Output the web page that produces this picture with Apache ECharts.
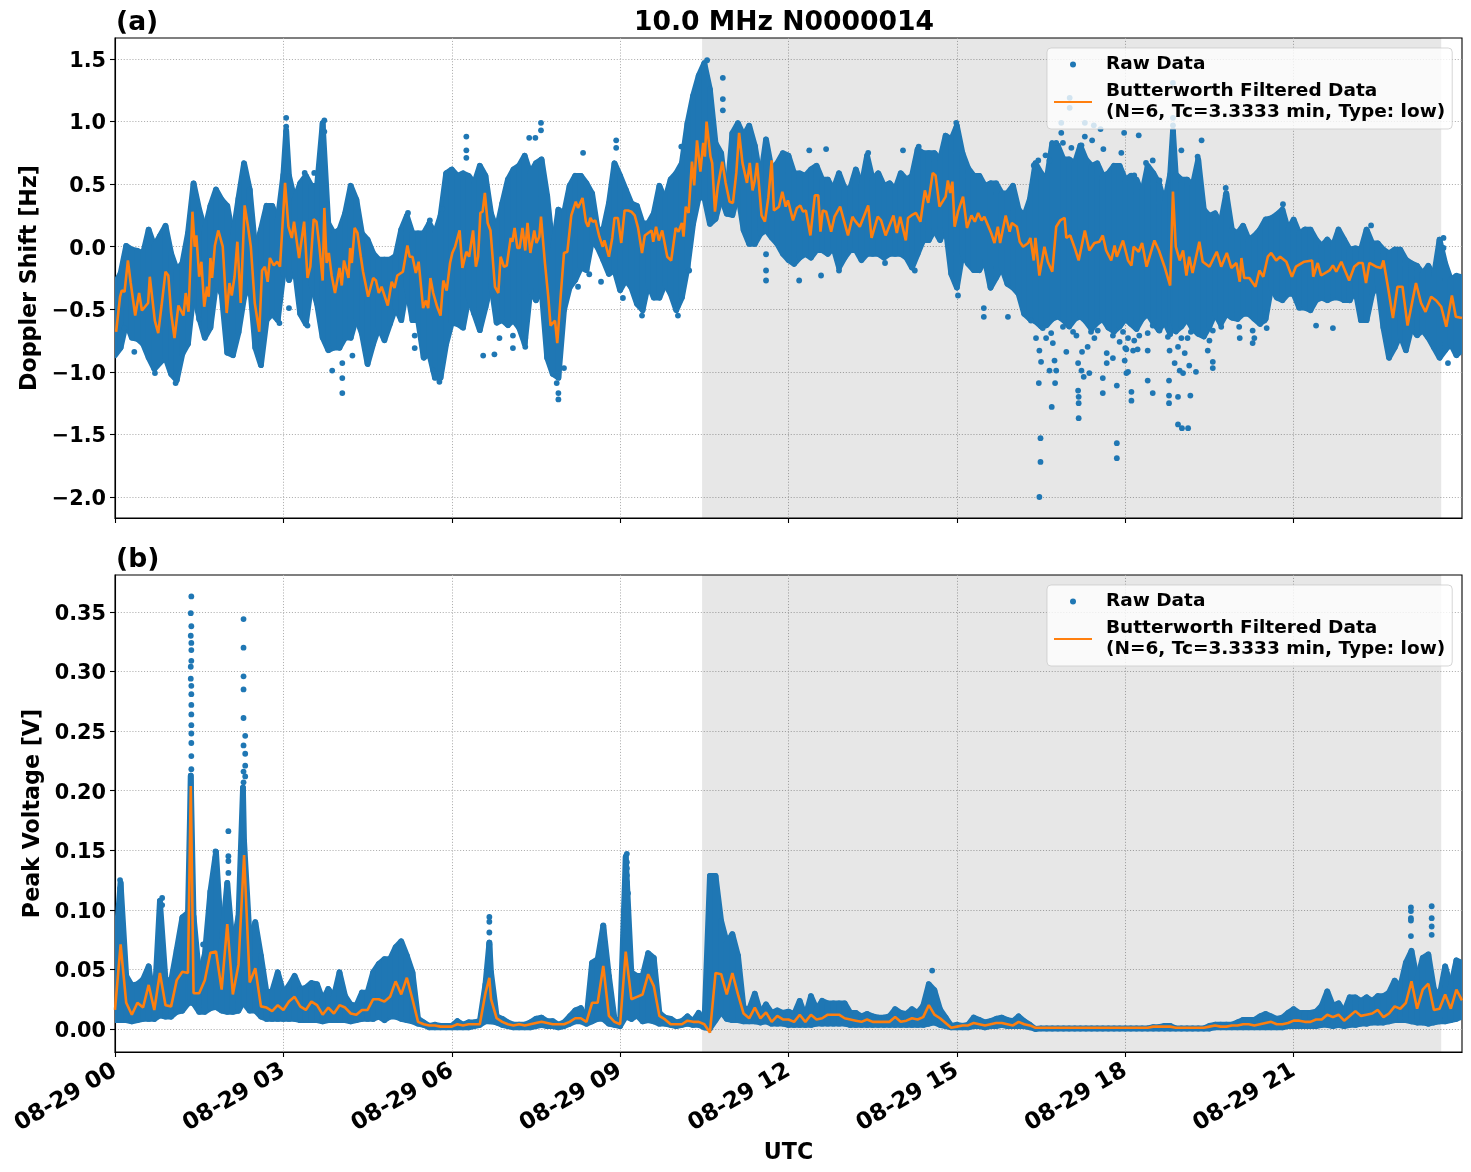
<!DOCTYPE html>
<html>
<head>
<meta charset="utf-8">
<style>html,body{margin:0;padding:0;background:#fff}#chart{width:1471px;height:1172px}</style>
<script src="https://cdn.jsdelivr.net/npm/echarts@6/dist/echarts.min.js"></script>
</head>
<body>
<div id="chart"></div>
<script>
// Envelopes are sampled every 0.1 h from 00:00 to 24:00 UTC.
const sampleStepHours = 0.1;

const dopplerHigh = [
-.27,-.19,.03,0,-.01,-.03,.16,.03,.11,.19,
-.03,-.16,-.11,.13,.53,.32,.16,.35,.48,.40,
.35,.11,.41,.69,.48,0,.16,.35,.35,.24,
.6,.59,.40,.53,.59,.51,.51,1.01,.21,.13,
.16,.29,.51,.40,.13,.08,-.03,-.08,-.08,-.08,
-.05,.16,.27,.13,.13,.13,.21,.13,.27,.61,
.64,.59,.61,.59,.53,.67,.59,.29,.16,.37,
.56,.64,.67,.75,.61,.69,.72,.43,0,.32,
.29,.51,.59,.59,.53,.45,.16,.16,.37,.69,
.59,.48,.37,.35,.21,.21,.29,.51,.40,.56,
.61,.69,1.01,1.23,1.39,1.49,1.28,.85,.77,.40,
.93,1.01,.91,.99,.83,.56,.88,.64,.69,.77,
.75,.61,.61,.59,.64,.67,.56,.56,.48,.61,
.49,.49,.64,.51,.75,.56,.61,.51,.53,.48,
.61,.56,.59,.80,.77,.77,.77,.72,.91,.88,
.99,.77,.65,.59,.59,.51,.53,.53,.45,.45,
.51,.32,.27,.40,.69,.61,.56,.85,.83,.72,
.72,.69,.83,.72,.67,.69,.59,.61,.67,.67,
.56,.59,.56,.45,.67,.61,.53,.37,.6,.6,
.56,.56,.51,.72,.32,.27,.29,.21,.45,.16,
.13,.19,.08,.11,.16,.24,.25,.28,.32,.16,
.24,.13,.16,.16,.08,.03,.08,.03,.16,.08,
0,.01,0,.16,.05,.05,0,-.03,0,0,
-.08,-.11,-.13,-.19,-.13,-.21,.08,-.11,-.24,-.21,
-.22];

const dopplerLow = [
-.89,-.83,-.63,-.75,-.76,-.80,-.91,-1.0,-.95,-.91,
-1.04,-1.09,-.88,-.8,-.39,-.59,-.75,-.67,-.32,-.40,
-.87,-.89,-.71,-.43,-.3,-.83,-.97,-.61,-.56,-.61,
-.24,-.29,-.19,-.56,-.64,-.32,-.48,-.75,-.85,-.83,
-.83,-.75,-.75,-.59,-.72,-.96,-.80,-.67,-.77,-.64,
-.51,-.61,-.35,-.61,-.61,-.91,-.88,-1.07,-1.07,-.8,
-.63,-.64,-.67,-.43,-.56,-.69,-.51,-.32,-.63,-.61,
-.65,-.61,-.67,-.80,-.37,-.45,-.37,-.91,-1.04,-1.07,
-.53,-.35,-.29,-.19,-.21,.03,-.03,-.13,-.24,-.21,
-.37,-.29,-.35,-.48,-.53,-.32,-.43,-.43,-.32,-.40,
-.53,-.43,-.19,.16,.37,.37,.16,.20,.37,.24,
.23,.40,.11,0,0,.08,.11,.05,0,-.08,
-.13,-.16,-.11,-.08,-.11,-.05,-.05,-.08,-.03,-.19,
-.11,-.05,-.05,-.13,-.08,-.08,-.08,-.11,-.08,-.08,
-.08,-.11,-.19,-.08,.03,.03,.11,.03,.13,-.24,
-.35,-.08,-.16,-.21,-.21,-.13,-.35,-.27,-.19,-.32,
-.35,-.40,-.56,-.6,-.62,-.66,-.65,-.6,-.58,-.61,
-.66,-.6,-.58,-.62,-.68,-.63,-.6,-.67,-.7,-.66,
-.6,-.64,-.68,-.6,-.56,-.63,-.69,-.62,-.72,-.7,
-.66,-.6,-.68,-.72,-.74,-.66,-.56,-.64,-.56,-.59,
-.6,-.56,-.56,-.6,-.64,-.6,-.35,-.43,-.45,-.40,
-.40,-.51,-.51,-.53,-.45,-.43,-.45,-.43,-.43,-.45,
-.45,-.37,-.61,-.61,-.40,-.32,-.67,-.91,-.83,-.73,
-.85,-.67,-.73,-.69,-.75,-.83,-.91,-.85,-.80,-.89,
-.85];

// Narrow excursions between two samples: [hour, low, high].
const dopplerBandPeaks = [[3.05,-.2,.95],[18.85,-.6,.95]];

// Filtered Doppler trace vertices: [hour, Hz].
const dopplerFiltered = [
[.02,-.68],[.09,-.40],[.12,-.35],[.17,-.36],[.23,-.11],[.28,-.29],[.36,-.55],[.43,-.37],[.48,-.51],[.59,-.45],
[.62,-.24],[.71,-.59],[.77,-.69],[.83,-.47],[.90,-.20],[.95,-.23],[1.0,-.53],[1.06,-.73],[1.13,-.47],[1.22,-.55],
[1.26,-.37],[1.31,-.52],[1.38,.28],[1.42,0],[1.45,.09],[1.50,-.24],[1.54,-.12],[1.59,-.48],[1.64,-.32],[1.67,-.40],
[1.70,-.09],[1.73,-.25],[1.78,.01],[1.84,.13],[1.92,0],[1.99,-.53],[2.04,-.29],[2.08,-.39],[2.13,-.24],[2.18,.04],
[2.24,-.45],[2.31,.33],[2.37,.16],[2.42,0],[2.49,-.45],[2.57,-.68],[2.62,-.19],[2.67,-.16],[2.72,-.28],[2.76,-.09],
[2.83,-.15],[2.89,-.12],[2.94,-.16],[3.03,.51],[3.09,.16],[3.15,.07],[3.19,.20],[3.28,-.09],[3.37,.20],[3.43,-.25],
[3.48,-.16],[3.54,.22],[3.59,.20],[3.64,.01],[3.70,-.27],[3.73,.31],[3.77,-.13],[3.81,-.05],[3.86,-.23],[3.92,-.37],
[4.0,-.17],[4.04,-.31],[4.08,-.11],[4.16,-.25],[4.19,-.01],[4.22,-.13],[4.27,.15],[4.32,.11],[4.38,-.08],[4.42,-.20],
[4.51,-.40],[4.60,-.25],[4.65,-.27],[4.70,-.37],[4.75,-.32],[4.86,-.47],[4.93,-.28],[4.98,-.33],[5.03,-.23],[5.13,-.20],
[5.21,.01],[5.25,-.08],[5.30,-.08],[5.36,-.21],[5.41,-.12],[5.49,-.49],[5.54,-.43],[5.58,-.49],[5.62,-.25],[5.67,-.37],
[5.74,-.48],[5.80,-.55],[5.85,-.27],[5.91,-.35],[5.97,-.13],
[6.01,-.05],[6.06,0],[6.14,.13],[6.19,-.17],[6.26,-.04],[6.31,-.08],[6.38,.13],[6.43,-.16],[6.47,-.08],[6.51,.27],
[6.55,.28],[6.59,.43],[6.64,.19],[6.69,.13],[6.77,-.32],[6.83,-.37],[6.87,-.08],[6.93,-.16],[6.98,-.15],[7.05,.07],
[7.08,.04],[7.12,.15],[7.17,-.01],[7.21,-.01],[7.26,.15],[7.31,-.03],[7.35,.19],[7.40,-.05],[7.47,.13],[7.51,.03],
[7.56,.08],[7.59,.24],[7.66,-.13],[7.72,-.40],[7.76,-.63],[7.84,-.59],[7.88,-.77],[7.94,-.40],[8.0,-.05],[8.06,-.04],
[8.13,.25],[8.21,.36],[8.25,.31],[8.33,.39],[8.39,.20],[8.43,.16],[8.47,.23],[8.51,.20],[8.56,.21],[8.63,.08],
[8.69,0],[8.72,.05],[8.80,-.08],[8.86,.07],[8.90,.23],[8.96,.23],[9.02,.03],[9.08,.29],[9.14,.29],[9.20,.28],
[9.26,.25],[9.32,.15],[9.39,-.05],[9.44,.09],[9.50,.11],[9.56,.13],[9.59,.04],[9.64,.16],[9.69,.05],[9.75,.13],
[9.84,-.08],[9.91,-.11],[9.99,.15],[10.04,.12],[10.10,.19],[10.13,.08],[10.17,.32],[10.22,.27],[10.28,.68],[10.32,.49],
[10.37,.85],[10.43,.60],[10.48,.83],[10.51,.72],[10.54,1.0],[10.61,.72],[10.64,.67],[10.69,.28],[10.74,.48],[10.82,.68],
[10.88,.51],[10.95,.36],[11.01,.35],[11.07,.59],[11.12,.91],[11.18,.67],[11.26,.51],[11.31,.67],[11.36,.45],[11.40,.53],
[11.44,.67],[11.52,.25],[11.58,.20],[11.64,.39],[11.70,.69],[11.74,.29],[11.83,.32],
[11.89,.44],[11.95,.32],[11.99,.37],[12.08,.21],[12.15,.31],[12.21,.33],[12.26,.28],[12.31,.29],[12.39,.09],[12.47,.41],
[12.53,.41],[12.57,.12],[12.61,.29],[12.67,.28],[12.76,.12],[12.82,.24],[12.92,.32],[13.06,.09],[13.14,.24],[13.18,.21],
[13.27,.16],[13.42,.33],[13.48,.07],[13.59,.24],[13.65,.21],[13.73,.09],[13.87,.25],[13.93,.11],[13.99,.24],[14.09,.05],
[14.13,.23],[14.19,.25],[14.27,.27],[14.35,.20],[14.43,.45],[14.49,.35],[14.57,.59],[14.62,.57],[14.69,.32],[14.80,.40],
[14.84,.53],[14.88,.43],[14.92,.52],[14.96,.16],[15.02,.28],[15.11,.40],[15.18,.15],[15.26,.25],[15.32,.20],[15.38,.27],
[15.44,.21],[15.49,.24],[15.61,.11],[15.67,.03],[15.73,.16],[15.77,.03],[15.87,.25],[15.94,.12],[15.98,.19],[16.07,.16],
[16.12,.04],[16.18,0],[16.27,.03],[16.31,.07],[16.37,-.11],[16.40,.07],[16.47,-.23],[16.56,0],[16.62,-.12],[16.70,-.20],
[16.77,.16],[16.84,.21],[16.92,.23],[16.95,.07],[17.02,.09],[17.10,-.01],[17.17,-.11],[17.28,.13],[17.36,-.03],[17.45,.03],
[17.54,.04],[17.60,.09],[17.66,-.03],[17.75,-.11],[17.81,.01],[17.85,-.08],[17.96,.05],[18.05,-.11],
[18.11,-.15],[18.15,0],[18.24,-.04],[18.30,.03],[18.38,-.16],[18.46,-.04],[18.52,.05],[18.60,-.03],[18.70,-.16],[18.80,-.31],
[18.85,.44],[18.90,0],[18.97,-.11],[19.03,-.03],[19.09,-.23],[19.14,-.08],[19.20,-.21],[19.32,.04],[19.38,-.12],[19.50,-.16],
[19.63,-.04],[19.71,-.16],[19.81,-.05],[19.89,-.17],[19.98,-.13],[20.04,-.28],[20.07,-.09],[20.12,-.25],[20.21,-.25],[20.32,-.32],
[20.39,-.19],[20.46,-.24],[20.54,-.08],[20.60,-.05],[20.69,-.11],[20.76,-.08],[20.87,-.12],[20.97,-.24],[21.04,-.16],[21.19,-.12],
[21.33,-.11],[21.35,-.24],[21.43,-.13],[21.49,-.23],[21.64,-.19],[21.70,-.15],[21.76,-.20],[21.85,-.12],[21.99,-.27],[22.08,-.16],
[22.16,-.13],[22.23,-.13],[22.29,-.29],[22.35,-.13],[22.47,-.16],[22.56,-.17],[22.60,-.11],[22.68,-.32],[22.77,-.57],[22.85,-.32],
[22.94,-.32],[23.03,-.63],[23.18,-.29],[23.27,-.45],[23.35,-.52],[23.45,-.40],[23.54,-.43],[23.63,-.48],[23.72,-.64],[23.82,-.39],
[23.89,-.56],[24.0,-.57]];

// Isolated raw samples outside the dense band: [hour, Hz].
const dopplerIsolated = [
[.344,-.84],[.712,-1.01],[1.08,-1.09],[3.87,-.99],[4.05,-.93],[4.05,-1.05],[4.05,-1.17],[4.23,-.87],
[3.10,-.49],[2.93,-.61],[5.78,-1.08],[5.67,-.99],[3.05,1.03],[3.05,.96],[3.73,1.01],[3.73,.92],
[3.38,.59],[3.55,.59],[5.22,.27],[5.61,.21],[5.83,.30],[5.34,-.71],[5.34,-.81],[3.43,-.63],[1.50,-.58],[.17,-.65],
[6.56,-.87],[6.76,-.86],[6.85,-.73],[7.09,-.71],[7.09,-.81],[7.31,-.73],[7.31,-.80],[6.26,.88],[6.26,.77],[6.26,.71],
[7.59,.99],[7.59,.93],[7.38,.87],[7.49,.87],[7.90,-1.22],[7.90,-1.17],[7.87,-1.09],[8.34,.75],[8.93,.85],[8.93,.79],
[10.83,1.35],[10.83,1.18],[10.83,1.09],[10.55,1.49],[11.60,-.06],[11.60,-.19],[11.60,-.27],[9.05,-.41],[10.23,-.19],
[9.39,-.55],[10.03,-.55],[10.03,-.47],[8.25,-.32],[8.45,-.22],[8.66,-.28],[8.00,-.97],[10.09,.80],
[16.47,-2.0],[16.49,-1.72],[16.49,-1.53],[17.85,-1.69],[17.85,-1.57],[17.17,-1.37],[17.17,-1.25],[17.17,-1.20],[17.16,-1.15],
[16.69,-1.28],[16.75,-1.09],[16.46,-1.09],[17.60,-1.17],[17.60,-1.05],[17.85,-1.11],[12.19,-.27],[12.58,-.23],[12.90,-.13],[12.90,-.19],
[14.25,-.19],[13.72,-.13],[15.48,-.56],[15.48,-.49],[15.91,-.56],[15.02,-.39],[14.99,.99],[14.99,.95],[12.67,.78],[12.37,.77],
[13.42,.75],[14.04,.77],[14.32,.80],[17.01,1.19],[17.01,1.11],[16.86,.99],[16.86,.91],[17.28,.99],[17.44,.97],[17.56,.94],[17.98,.91],
[16.58,.73],[16.37,.65],[16.45,.69],
[18.85,1.31],[18.85,1.03],[18.85,.97],[18.85,.91],[18.24,.89],[19.36,.85],[19.79,.47],[19.79,.41],[20.81,.34],[22.38,.17],
[23.67,.07],[23.67,-.01],[21.40,-.63],[21.70,-.65],[18.94,-1.42],[19.12,-1.45],[19.01,-1.45],[18.11,-1.16],[18.11,-1.23],
[18.49,-1.17],[18.40,-1.07],[18.78,-1.07],[18.78,-1.19],[18.78,-1.25],[18.94,-1.20],[19.16,-1.19],[19.56,-.92],[19.56,-.97],
[18.00,-.81],[20.04,-.73],[20.27,-.77],[20.52,-.65],[23.75,-.93],
[16.41,-.73],[16.47,-.83],[16.59,-.73],[16.71,-.77],[16.95,-.84],[17.23,-.84],[17.33,-.80],[17.45,-.73],[17.67,-.85],[17.78,-.89],
[18.02,-.82],[16.50,-.92],[16.74,-.91],[16.65,-.99],[16.77,-.99],[17.16,-.93],[17.22,-.99],[17.36,-1.01],[17.26,-1.04],[18.02,-1.01],[17.67,-.93],
[17.96,-.68],[18.05,-.73],[18.16,-.75],[18.25,-.71],[18.40,-.69],[18.49,-.63],[17.99,-.91],[18.05,-1.0],[18.14,-.83],[18.22,-.82],
[18.40,-.83],[18.61,-.67],[18.76,-.72],[18.79,-.83],[18.88,-.93],[18.94,-.80],[19.0,-.73],[19.06,-.85],[19.14,-.95],[19.26,-1.0],
[19.47,-.83],[19.5,-.75],[19.56,-.67],[18.97,-.99],[19.03,-1.01],[19.11,-.73],[19.17,-.68],[19.71,-.64],[20.03,-.64],[20.27,-.67],
[20.30,-.73],[20.48,-.59],[20.51,-.52],
[16.77,.83],[16.89,.83],[17.04,.79],[17.22,.81],[17.28,.88],[17.41,.85],[17.61,.78],[17.93,.75],[16.65,.69],
[18.37,.67],[18.49,.69],[18.16,.57],[18.61,.53],[19.0,.77],[19.29,.72],[19.29,.64],
[16.32,-.59],[16.53,-.65],[16.68,-.69],[16.89,-.64],[17.07,-.68],[17.13,-.71],[17.39,-.68],[17.51,-.67],[17.78,-.71],[17.90,-.76]];

const voltageHigh = [
.067,.125,.047,.039,.040,.044,.055,.022,.11,.044,
.043,.069,.096,.10,.097,.047,.065,.118,.151,.075,
.125,.071,.097,.16,.078,.092,.064,.033,.034,.05,
.033,.039,.047,.036,.037,.041,.040,.027,.036,.030,
.050,.030,.023,.022,.033,.033,.050,.057,.061,.061,
.071,.076,.064,.050,.011,.008,.005,.006,.005,.005,
.005,.009,.006,.008,.008,.009,.04,.05,.013,.011,
.008,.006,.006,.006,.008,.011,.012,.009,.009,.006,
.008,.013,.018,.020,.011,.058,.061,.089,.047,.011,
.009,.147,.050,.047,.047,.066,.062,.016,.012,.011,
.008,.009,.013,.009,.016,.006,.131,.131,.093,.075,
.082,.064,.020,.019,.032,.016,.023,.016,.018,.016,
.017,.015,.026,.013,.030,.019,.026,.024,.024,.024,
.024,.016,.016,.013,.015,.013,.012,.012,.013,.019,
.016,.015,.019,.016,.022,.040,.035,.019,.012,.005,
.006,.005,.006,.012,.010,.008,.009,.011,.012,.010,
.009,.013,.009,.006,.002,.003,.003,.003,.003,.003,
.003,.003,.003,.003,.003,.003,.003,.003,.003,.003,
.003,.003,.003,.003,.003,.004,.004,.005,.005,.003,
.003,.003,.003,.003,.003,.005,.006,.006,.006,.006,
.008,.010,.010,.010,.013,.015,.013,.011,.012,.016,
.019,.016,.016,.016,.017,.022,.034,.022,.024,.017,
.029,.029,.026,.029,.026,.030,.030,.033,.043,.038,
.058,.068,.044,.062,.065,.036,.030,.055,.038,.060,
.058];

const voltageLow = [
.005,.005,.005,.004,.005,.006,.006,.006,.009,.008,
.008,.012,.013,.019,.019,.012,.012,.015,.016,.013,
.012,.012,.013,.019,.013,.013,.008,.006,.006,.006,
.006,.006,.006,.005,.005,.005,.005,.004,.005,.005,
.005,.005,.004,.005,.006,.006,.006,.008,.005,.008,
.008,.006,.005,.004,.002,.001,-.001,-.001,-.001,-.001,
-.001,-.001,-.001,-.001,0,.001,.004,.004,.003,.001,
0,-.001,-.001,-.001,-.001,0,.001,0,0,-.001,
0,.002,.004,.004,.002,.004,.006,.006,.002,.001,
0,.008,.006,.009,.004,.005,.004,.002,.002,.001,
0,.001,.002,.001,.001,-.001,-.002,.005,.012,.006,
.005,.005,.004,.004,.004,.003,.004,.002,.002,.002,
.001,.001,.001,.001,.001,.002,.002,.002,.002,.002,
.002,.001,.001,.001,.001,.001,.001,.001,.001,.001,
.001,.001,.001,.001,.001,.002,.003,.001,0,-.001,
-.001,-.001,-.001,0,0,-.001,0,0,.001,0,
0,0,0,-.001,-.002,-.002,-.002,-.002,-.002,-.002,
-.002,-.002,-.002,-.002,-.002,-.002,-.002,-.002,-.002,-.002,
-.002,-.002,-.002,-.002,-.002,-.002,-.002,-.002,-.002,-.002,
-.002,-.002,-.002,-.002,-.002,-.002,-.001,-.001,-.001,-.001,
-.001,-.001,-.001,-.001,-.001,-.001,-.001,-.001,-.001,0,
0,0,0,0,0,.001,.001,0,.001,0,
.001,.001,.002,.002,.003,.003,.003,.004,.005,.005,
.005,.004,.003,.003,.002,.003,.004,.004,.005,.006,
.008];

const voltageBandPeaks = [[1.35,.02,.215],[2.28,.02,.205],[6.67,.004,.075]];

const voltageFiltered = [
.016,.071,.022,.012,.022,.018,.037,.016,.047,.020,
.019,.041,.048,.047,.030,.030,.041,.064,.065,.033,
.088,.029,.054,.146,.039,.051,.019,.018,.015,.020,
.016,.023,.027,.019,.016,.023,.020,.012,.018,.013,
.020,.018,.013,.012,.016,.016,.025,.025,.023,.027,
.040,.029,.043,.025,.006,.004,.003,.003,.002,.002,
.002,.004,.003,.004,.004,.004,.030,.025,.009,.006,
.004,.003,.004,.003,.004,.005,.006,.005,.004,.004,
.004,.006,.009,.009,.006,.022,.022,.053,.011,.006,
.004,.065,.025,.027,.029,.046,.036,.011,.008,.004,
.004,.004,.007,.006,.006,.004,-.003,.047,.046,.029,
.047,.029,.013,.009,.018,.009,.014,.006,.011,.008,
.008,.006,.012,.006,.012,.008,.009,.012,.012,.012,
.009,.008,.007,.006,.008,.006,.006,.006,.006,.010,
.006,.007,.009,.008,.010,.020,.012,.009,.005,.001,
.002,.003,.003,.005,.004,.003,.004,.005,.005,.004,
.003,.006,.004,.003,.001,.001,.001,.001,.001,.001,
.001,.001,.001,.001,.001,.001,.001,.001,.001,.001,
.001,.001,.001,.001,.001,.002,.002,.002,.002,.001,
.001,.001,.001,.001,.001,.002,.003,.002,.002,.003,
.003,.004,.004,.003,.004,.005,.006,.004,.004,.005,
.007,.007,.006,.006,.008,.008,.012,.010,.012,.007,
.011,.015,.011,.012,.013,.016,.010,.013,.019,.017,
.022,.040,.017,.033,.038,.016,.017,.029,.017,.033,
.024];

const voltageFilteredPeaks = [[1.35,.204],[6.67,.043]];

// Isolated raw samples above the dense band: [hour, volts].
const voltageIsolated = [
[1.36,.363],[1.35,.349],[1.36,.338],[1.35,.330],[1.36,.324],[1.36,.318],[1.36,.309],[1.35,.304],[1.35,.294],[1.36,.288],
[1.36,.281],[1.36,.272],[1.36,.264],[1.36,.255],[1.36,.248],[1.36,.240],[1.36,.229],[1.36,.218],
[2.29,.344],[2.29,.320],[2.29,.296],[2.29,.285],[2.29,.261],[2.32,.246],[2.29,.238],[2.32,.231],[2.32,.221],[2.29,.216],[2.32,.212],[2.29,.207],
[2.02,.166],[2.02,.145],[2.02,.141],[2.02,.131],[1.79,.149],[1.79,.144],[1.79,.138],[1.79,.134],[1.57,.071],
[.09,.125],[.09,.118],[.84,.110],[.84,.104],
[6.67,.094],[6.67,.090],[6.67,.081],[6.67,.071],
[9.12,.147],[9.12,.140],[9.12,.135],[9.12,.129],[9.12,.123],[9.14,.114],
[8.70,.087],[8.70,.083],[8.70,.075],[14.56,.049],
[23.09,.102],[23.09,.099],[23.09,.093],[23.09,.091],[23.09,.078],
[23.46,.103],[23.46,.093],[23.46,.086],[23.46,.079]];

const hourTicks = [0,3,6,9,12,15,18,21];
const hourTickLabels = ['08-29 00','08-29 03','08-29 06','08-29 09','08-29 12','08-29 15','08-29 18','08-29 21'];
const dopplerTicks = [1.5,1,0.5,0,-0.5,-1,-1.5,-2];
const voltageTicks = [0.35,0.30,0.25,0.20,0.15,0.10,0.05,0];
const nightStartHour = 10.46;
const nightEndHour = 23.63;

const RAW_NAME = 'Raw Data';
const FILTER_NAME = 'Butterworth Filtered Data\n(N=6, Tc=3.3333 min, Type: low)';
const BLUE = '#1f77b4';
const ORANGE = '#ff7f0e';
const FONT = '"DejaVu Sans"';
const DOT = 5.8;

const byHour = (a, b) => a[0] - b[0];
const bandRows = (hi, lo, peaks) => hi.map((h, i) => [i * sampleStepHours, lo[i], h]).concat(peaks).sort(byHour);
const voltageTrace = voltageFiltered.map((v, i) => [i * sampleStepHours, v]).concat(voltageFilteredPeaks).sort(byHour);

// The dense part of the raw data: one filled quad between consecutive envelope samples,
// inset and stroked by a dot radius so that its outline has the roundness of the points.
function bandRenderer(rows) {
  return function (params, api) {
    const i = params.dataIndex;
    if (i + 1 >= rows.length) return null;
    const r = DOT / 2;
    const edge = row => {
      const top = api.coord([row[0], row[2]]);
      const bottom = api.coord([row[0], row[1]]);
      let y1 = top[1] + r, y2 = bottom[1] - r;
      if (y1 > y2) y1 = y2 = (y1 + y2) / 2;
      return { x: top[0], y1, y2 };
    };
    const a = edge(rows[i]), b = edge(rows[i + 1]);
    return {
      type: 'polygon',
      shape: { points: [[a.x, a.y1], [b.x, b.y1], [b.x, b.y2], [a.x, a.y2]] },
      style: { fill: BLUE, stroke: BLUE, lineWidth: DOT, lineJoin: 'round' }
    };
  };
}

const axisText = { color: '#000', fontFamily: FONT, fontWeight: 'bold', fontSize: 22.2 };
const gridLine = { show: true, lineStyle: { color: '#b0b0b0', type: [1.1, 1.8], width: 1 } };

function xAxis(gridIndex, showLabels) {
  return {
    type: 'value', gridIndex, min: 0, max: 24,
    name: showLabels ? 'UTC' : '',
    nameLocation: 'middle', nameGap: 90,
    nameTextStyle: axisText,
    axisLine: { show: true, onZero: false, lineStyle: { color: '#000', width: 1.1 } },
    axisTick: { show: true, customValues: hourTicks, length: 5, lineStyle: { color: '#000', width: 1.1 } },
    axisLabel: {
      show: showLabels, customValues: hourTicks, rotate: 30, margin: 17,
      color: '#000', fontFamily: FONT, fontWeight: 'bold', fontSize: 23,
      formatter: v => hourTickLabels[hourTicks.indexOf(v)] || ''
    },
    splitLine: gridLine
  };
}

function yAxis(gridIndex, name, min, max, ticks, digits, gap) {
  return {
    type: 'value', gridIndex, min, max, name,
    nameLocation: 'middle', nameRotate: 90, nameGap: gap,
    nameTextStyle: axisText,
    axisLine: { show: true, onZero: false, lineStyle: { color: '#000', width: 1.1 } },
    axisTick: { show: true, customValues: ticks, length: 5, lineStyle: { color: '#000', width: 1.1 } },
    axisLabel: {
      show: true, customValues: ticks, margin: 9,
      formatter: v => '{t|' + v.toFixed(digits).replace('-', '\u2212') + '}',
      rich: { t: { color: '#000', fontFamily: FONT, fontWeight: 'bold', fontSize: 20.8, padding: [5, 0, 0, 0] } }
    },
    splitLine: gridLine
  };
}

function panelSeries(axisIndex, bandData, trace, isolated) {
  const idx = { xAxisIndex: axisIndex, yAxisIndex: axisIndex };
  return [
    { type: 'scatter', name: RAW_NAME, ...idx, data: isolated, symbolSize: DOT, z: 3,
      itemStyle: { color: BLUE, opacity: 1 }, emphasis: { disabled: true }, clip: true },
    { type: 'custom', name: RAW_NAME, ...idx, data: bandData, renderItem: bandRenderer(bandData), z: 3, clip: true,
      encode: { x: 0, y: [1, 2] }, itemStyle: { color: BLUE }, silent: true },
    { type: 'line', name: FILTER_NAME, ...idx, data: trace, showSymbol: false, symbol: 'none',
      lineStyle: { color: ORANGE, width: 2.6 }, itemStyle: { color: ORANGE }, z: 4, clip: true, silent: true },
    // Shaded interval drawn beneath the data.
    { type: 'line', ...idx, data: [], z: 1, silent: true,
      markArea: { silent: true, itemStyle: { color: 'rgba(0,0,0,0.095)' },
        data: [[{ xAxis: nightStartHour }, { xAxis: nightEndHour }]] } }
  ];
}

function legendAt(top) {
  return {
    left: 1047, top, orient: 'vertical', selectedMode: false,
    data: [
      { name: RAW_NAME, icon: 'circle' },
      { name: FILTER_NAME, itemStyle: { opacity: 0 } }
    ],
    itemWidth: 38, itemHeight: 6, itemGap: 6,
    padding: [6, 7, 6, 6],
    backgroundColor: 'rgba(255,255,255,0.8)',
    borderColor: 'rgba(204,204,204,0.8)', borderWidth: 1, borderRadius: 4,
    textStyle: { color: '#000', fontFamily: FONT, fontWeight: 'bold', fontSize: 18.5, lineHeight: 21, padding: [0, 0, 0, 9] }
  };
}

const headText = { color: '#000', fontFamily: FONT, fontWeight: 'bold', fontSize: 26.6 };

const option = {
  animation: false,
  backgroundColor: '#fff',
  title: [
    { text: '(a)', left: 116, top: 10, padding: 0, textStyle: headText },
    { text: '10.0 MHz N0000014', left: 784, top: 10, padding: 0, textAlign: 'center', textStyle: headText },
    { text: '(b)', left: 116, top: 547, padding: 0, textStyle: headText }
  ],
  legend: [legendAt(48), legendAt(585)],
  grid: [
    { left: 115, top: 38, width: 1347, height: 480, show: true, borderColor: '#000', borderWidth: 1.1, backgroundColor: 'transparent' },
    { left: 115, top: 575, width: 1347, height: 477, show: true, borderColor: '#000', borderWidth: 1.1, backgroundColor: 'transparent' }
  ],
  xAxis: [xAxis(0, false), xAxis(1, true)],
  yAxis: [
    yAxis(0, 'Doppler Shift [Hz]', -2.168, 1.668, dopplerTicks, 1, 73),
    yAxis(1, 'Peak Voltage [V]', -0.0193, 0.381, voltageTicks, 2, 69)
  ],
  series: [
    ...panelSeries(0, bandRows(dopplerHigh, dopplerLow, dopplerBandPeaks), dopplerFiltered, dopplerIsolated),
    ...panelSeries(1, bandRows(voltageHigh, voltageLow, voltageBandPeaks), voltageTrace, voltageIsolated)
  ]
};

echarts.init(document.getElementById('chart'), null, { renderer: 'canvas' }).setOption(option);
</script>
</body>
</html>
